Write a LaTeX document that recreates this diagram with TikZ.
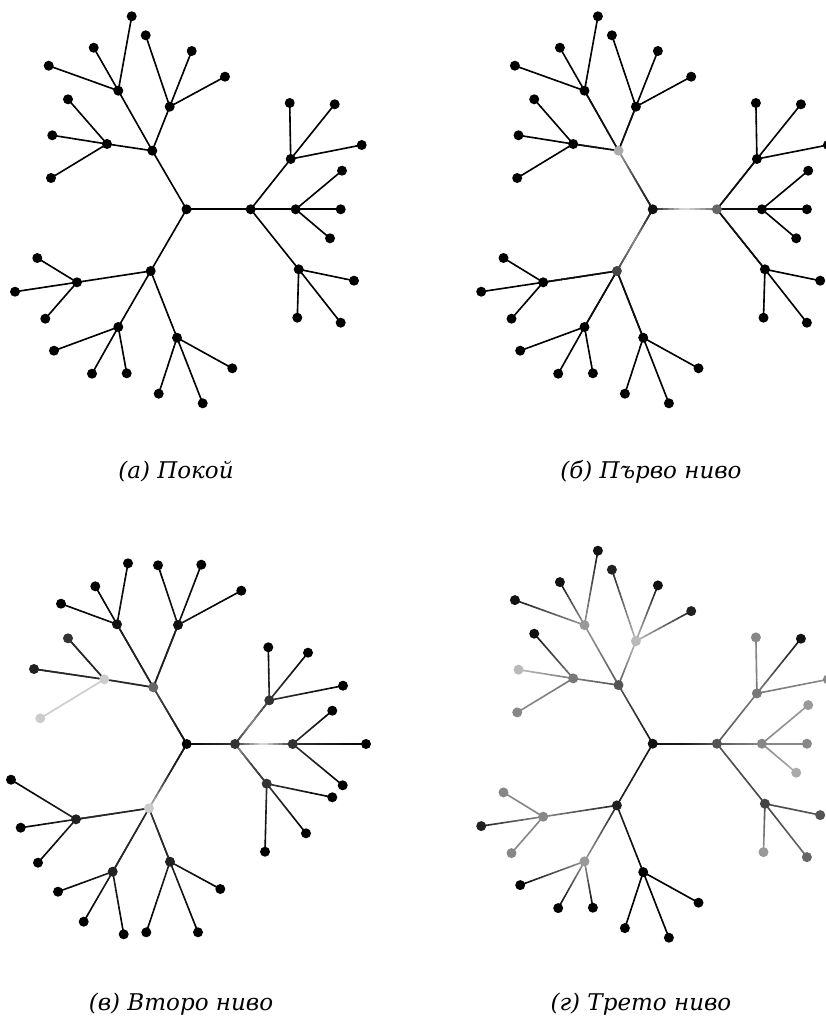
\documentclass[tikz,border=0pt]{standalone}
\usepackage{fontspec}
\setmainfont{DejaVu Serif}
\usetikzlibrary{calc}
\pgfdeclarelayer{bg}
\pgfsetlayers{bg,main}
\tikzset{
  dot/.style={circle, inner sep=0pt, minimum size=10pt, draw=none},
  edge/.style={line width=1.6pt, line cap=round},
  captext/.style={font=\fontsize{23}{27}\selectfont\itshape, inner sep=0pt, anchor=base}
}
% geometry shared by panels a, b, d
\def\geomA{R/186.5/209.3, A/250.7/209.3, B/152.3/150.7, C/150.7/271,
 Aa/290.7/159, Aa1/289.7/103, Aa2/334.7/104.3, Aa3/361.7/145,
 Ab/295.7/209.3, Ab1/342/170.7, Ab2/340.7/209.3, Ab3/330/238.3,
 Ac/298.7/269.3, Ac1/354/280.7, Ac2/297.3/317.7, Ac3/340.7/322.7,
 Ba/118.3/90.7, Ba1/131.7/16.3, Ba2/93.7/47.7, Ba3/48.7/65.7,
 Bb/169.7/106.7, Bb1/145.7/35.3, Bb2/191.7/51, Bb3/225/76.7,
 Bc/107/144, Bc1/68/99.3, Bc2/52.3/135.3, Bc3/51/178,
 Ca/77/282.3, Ca1/37.3/258, Ca2/15/291.7, Ca3/45.3/318.7,
 Cb/118.3/327, Cb1/54/350.7, Cb2/92/373.7, Cb3/126.7/373.3,
 Cc/177/337.7, Cc1/232.3/368.3, Cc2/158.7/393.7, Cc3/202.7/403.3}
% geometry of panel c
\def\geomC{R/186.7/744, A/235/744, B/153.3/687.3, C/149/808.3,
 Aa/269.3/700.3, Aa1/268.3/647.3, Aa2/308/652.7, Aa3/343/685.7,
 Ab/292.7/744, Ab1/332.3/710.7, Ab2/366/744, Ab3/342.7/785.3,
 Ac/266.7/783.7, Ac1/332.3/797.3, Ac2/306/833.3, Ac3/265/851.7,
 Ba/117/624.3, Ba1/128/563.3, Ba2/95.3/586.3, Ba3/61/603.7,
 Bb/178/625, Bb1/158/565.3, Bb2/201.3/564.7, Bb3/241.3/590.7,
 Bc/104.3/679.3, Bc1/68/638.3, Bc2/34/669, Bc3/40.3/718.3,
 Ca/76/819.3, Ca1/11/779.7, Ca2/20.7/827.7, Ca3/38/862.7,
 Cb/112.7/871.7, Cb1/58/891.7, Cb2/83.7/921.7, Cb3/123.7/934.3,
 Cc/170/861.7, Cc1/220.3/889, Cc2/146.3/932.3, Cc3/198/932.3}
\def\edgelist{R/A, R/B, R/C, A/Aa, A/Ab, A/Ac, B/Ba, B/Bb, B/Bc, C/Ca, C/Cb, C/Cc,
 Aa/Aa1, Aa/Aa2, Aa/Aa3, Ab/Ab1, Ab/Ab2, Ab/Ab3, Ac/Ac1, Ac/Ac2, Ac/Ac3,
 Ba/Ba1, Ba/Ba2, Ba/Ba3, Bb/Bb1, Bb/Bb2, Bb/Bb3, Bc/Bc1, Bc/Bc2, Bc/Bc3,
 Ca/Ca1, Ca/Ca2, Ca/Ca3, Cb/Cb1, Cb/Cb2, Cb/Cb3, Cc/Cc1, Cc/Cc2, Cc/Cc3}
% gradient edge: u, v, k_u, k_mid, k_v  (k = percent black)
\newcommand\gedge[5]{%
  \foreach \i in {0,...,11}{%
    \pgfmathsetmacro\ta{\i/12}\pgfmathsetmacro\tb{(\i+1)/12}%
    \pgfmathsetmacro\tm{(\i+0.5)/12}%
    \pgfmathtruncatemacro\kk{\tm<0.5 ? #3+(#4-#3)*2*\tm : #4+(#5-#4)*(2*\tm-1)}%
    \draw[edge, black!\kk] ($(#1)!\ta!(#2)$) -- ($(#1)!\tb!(#2)$);}}
% prefix, geometry, node colour overrides, edge overrides u/v/ku/km/kv
\newcommand\mktree[4]{%
  \foreach \n/\x/\y in #2 {\expandafter\xdef\csname k@#1\n\endcsname{100}}%
  \foreach \n/\kval in {#3} {\expandafter\xdef\csname k@#1\n\endcsname{\kval}}%
  \foreach \n/\x/\y in #2 {%
    \edef\kk{\csname k@#1\n\endcsname}%
    \node[dot, fill=black!\kk] (#1\n) at (\x,\y) {};}%
  \begin{pgfonlayer}{bg}
  \foreach \u/\v in \edgelist {%
    \edef\ku{\csname k@#1\u\endcsname}\edef\kv{\csname k@#1\v\endcsname}%
    \pgfmathsetmacro\km{(\ku+\kv)/2}%
    \gedge{#1\u}{#1\v}{\ku}{\km}{\kv}}%
  \foreach \u/\v/\ka/\kb/\kc in {#4} {\gedge{#1\u}{#1\v}{\ka}{\kb}{\kc}}%
  \end{pgfonlayer}}
\begin{document}
\begin{tikzpicture}[x=1pt,y=-1pt]
\useasboundingbox (0,0) rectangle (825,1016);
% (a)
\mktree{a}{\geomA}{R/100}{R/A/100/100/100}
% (b)
\begin{scope}[shift={(466.2,0)}]
\mktree{b}{\geomA}{R/93, A/60, B/33, C/73}{
 R/A/93/12/60, R/C/93/45/73, R/B/93/75/40,
 A/Aa/95/95/95, A/Ab/95/95/95, A/Ac/95/95/95,
 B/Ba/95/95/95, B/Bb/95/95/95, B/Bc/95/95/95,
 C/Ca/95/95/95, C/Cb/95/95/95, C/Cc/95/95/95}
\end{scope}
% (c)
\mktree{c}{\geomC}{R/100, A/80, Aa/80, Ab/80, Ac/80, B/60, Ba/93, Bb/93, Bc/20,
 Bc1/80, Bc2/87, Bc3/20, C/20, Ca/87, Cb/87, Cc/87}{
 A/Ab/80/12/80, A/Aa/80/45/80, A/Ac/40/70/80,
 R/C/95/85/25, R/B/95/85/70,
 B/Ba/88/88/88, B/Bb/88/88/88, B/Bc/85/85/85, Bc/Bc1/85/85/85, Bc/Bc2/85/85/85,
 C/Ca/85/85/85, C/Cb/85/85/85, C/Cc/80/85/85}
% (d)
\begin{scope}[shift={(466.2,534.4)}]
\mktree{d}{\geomA}{R/93, A/67, B/67, C/87,
 Aa/53, Aa1/47, Aa2/93, Aa3/47, Ab/47, Ab1/40, Ab2/47, Ab3/33,
 Ac/73, Ac1/67, Ac2/40, Ac3/60, Ba/40, Ba1/93, Ba2/93, Ba3/93,
 Bb/27, Bb1/87, Bb2/93, Bb3/87, Bc/53, Bc1/93, Bc2/27, Bc3/47,
 Ca/47, Ca1/47, Ca2/87, Ca3/47, Cb/40}{R/A/93/90/67}
\end{scope}
% captions
\node[captext] (capa) at (176,478) {(а) Покой};
\node[captext] (capb) at (651,478) {(б) Първо ниво};
\node[captext] (capc) at (181,1010) {(в) Второ ниво};
\node[captext] (capd) at (641,1010) {(г) Трето ниво};
\end{tikzpicture}
\end{document}
